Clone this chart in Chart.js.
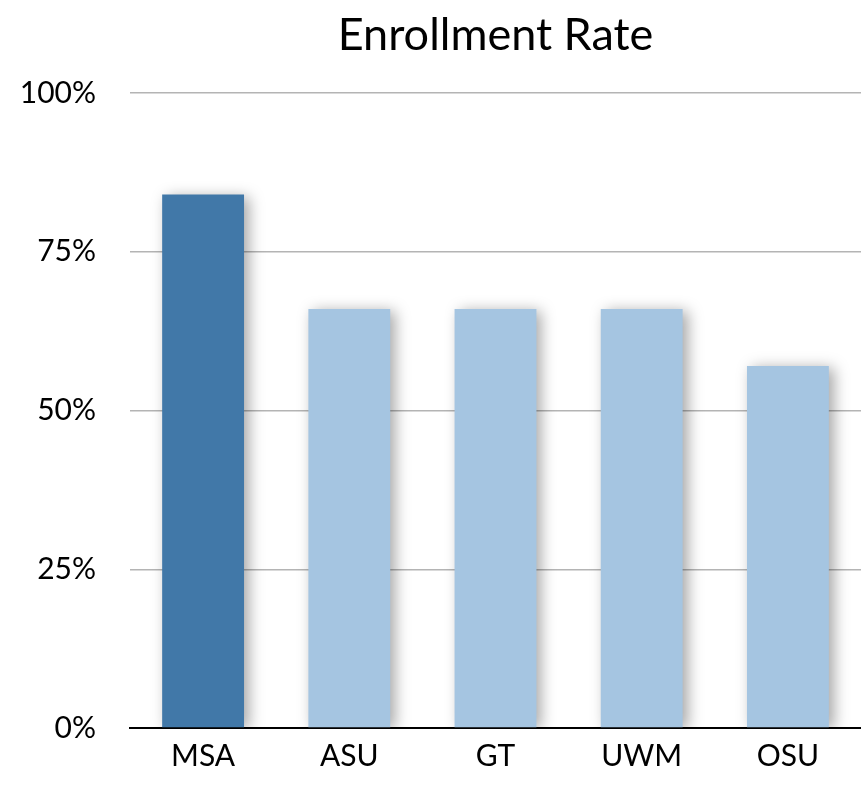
<!DOCTYPE html>
<html>
<head>
  <meta charset="UTF-8"/>
  <title>Enrollment Rate</title>
  <style>
    html, body { margin: 0; padding: 0; background: #fff; }
    #wrap { width: 861px; height: 786px; }
  </style>
  <script src="https://cdn.jsdelivr.net/npm/chart.js"></script>
</head>
<body>
  <div id="wrap"><canvas id="myChart" width="861" height="786"></canvas></div>
  <script>
    // data
    const schools = ['MSA', 'ASU', 'GT', 'UWM', 'OSU'];
    const enrollment = [84, 66, 66, 66, 57];
    const barColors = ['#4178a8', '#a5c5e1', '#a5c5e1', '#a5c5e1', '#a5c5e1'];
    const yTicks = [0, 25, 50, 75, 100];

    // soft drop shadow under the bars
    const barShadow = {
      id: 'barShadow',
      beforeDatasetsDraw(chart) {
        const c = chart.ctx;
        c.save();
        c.shadowColor = 'rgba(0,0,0,0.35)';
        c.shadowBlur = 14;
        c.shadowOffsetX = 5;
        c.shadowOffsetY = 2;
      },
      afterDatasetsDraw(chart) {
        chart.ctx.restore();
      }
    };

    const font = 'Lato, "Open Sans", sans-serif';
    const ctx = document.getElementById('myChart').getContext('2d');
    new Chart(ctx, {
      type: 'bar',
      data: {
        labels: schools,
        datasets: [{
          data: enrollment,
          backgroundColor: barColors,
          borderWidth: 0,
          barPercentage: 0.56,
          categoryPercentage: 1
        }]
      },
      plugins: [barShadow],
      options: {
        responsive: false,
        animation: false,
        layout: { padding: { left: 18, right: 0, top: 0, bottom: 0 } },
        plugins: {
          legend: { display: false },
          tooltip: { enabled: false },
          title: {
            display: true,
            fullSize: false,
            text: 'Enrollment Rate',
            color: '#000',
            font: { family: font, size: 45, weight: 'normal' },
            padding: { top: 8, bottom: 31 }
          }
        },
        scales: {
          x: {
            grid: { display: false, drawTicks: false },
            border: { display: true, color: '#000', width: 2 },
            ticks: { color: '#000', font: { family: font, size: 30 }, padding: 10 },
            afterFit(axis) { axis.height = 58; }
          },
          y: {
            min: 0,
            max: 100,
            afterBuildTicks(axis) { axis.ticks = yTicks.map(v => ({ value: v })); },
            grid: { color: '#b4b4b4', lineWidth: 1.5, drawTicks: false },
            border: { display: false },
            ticks: {
              color: '#000',
              font: { family: font, size: 30 },
              padding: 34,
              callback: v => v + '%'
            },
            afterFit(axis) { axis.width = 112; }
          }
        }
      }
    });
  </script>
</body>
</html>
